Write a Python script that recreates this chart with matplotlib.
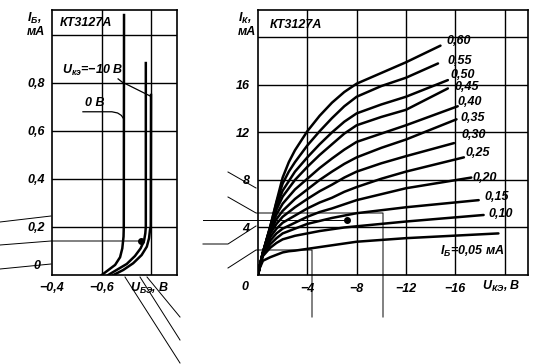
import numpy as np
import matplotlib
matplotlib.use("Agg")
import matplotlib.pyplot as plt
from matplotlib.lines import Line2D

plt.rcParams.update({
    "font.family":      ["Liberation Sans", "DejaVu Sans"],
    "font.style":       "italic",
    "font.weight":      "bold",
    "font.size":        9,
    "mathtext.fontset": "custom",
    "mathtext.it":      "Liberation Sans:italic:bold",
    "mathtext.rm":      "Liberation Sans:italic:bold",
    "mathtext.bf":      "Liberation Sans:italic:bold",
    "mathtext.fallback": "stix",
    "axes.linewidth":   1.2,
    "axes.edgecolor":   "black",
    "figure.facecolor": "white",
})

# ---- left panel: input characteristics I_B(U_BE) ----
ube_0v = [-0.601, -0.628, -0.655, -0.675, -0.684, -0.689, -0.690, -0.691]
ib_0v = [0.0, 0.021, 0.042, 0.074, 0.111, 0.160, 0.201, 1.083]

ube_10v_a = [-0.627, -0.661, -0.702, -0.735, -0.758, -0.772, -0.777, -0.779, -0.779]
ib_10v_a = [0.0, 0.021, 0.046, 0.079, 0.111, 0.143, 0.174, 0.201, 0.883]

ube_10v_b = [-0.648, -0.688, -0.728, -0.762, -0.783, -0.792, -0.796, -0.799, -0.800]
ib_10v_b = [0.0, 0.021, 0.049, 0.083, 0.118, 0.153, 0.188, 0.201, 0.750]

left_point = (-0.759, 0.142)

# ---- right panel: output characteristics I_K(U_KE) for several I_B ----
ib_levels = [0.05, 0.10, 0.15, 0.20, 0.25, 0.30, 0.35, 0.40, 0.45, 0.50, 0.55, 0.60]
ib_labels = ["0,05", "0,10", "0,15", "0,20", "0,25", "0,30",
             "0,35", "0,40", "0,45", "0,50", "0,55", "0,60"]
uce_grid = [0, -0.15, -0.4, -1, -1.5, -2, -2.5, -3, -4, -5, -6, -7, -8, -10, -12]
ic_on_grid = [
    [0, 0.6, 1.2, 1.5, 1.7, 1.9, 2.0, 2.05, 2.2, 2.35, 2.5, 2.65, 2.8, 2.95, 3.1],
    [0, 0.7, 1.6, 2.3, 2.7, 3.0, 3.15, 3.3, 3.5, 3.7, 3.85, 4.0, 4.1, 4.3, 4.5],
    [0, 0.7, 1.7, 2.6, 3.1, 3.5, 3.7, 3.9, 4.3, 4.55, 4.8, 5.0, 5.2, 5.45, 5.7],
    [0, 0.8, 1.8, 2.9, 3.5, 3.9, 4.15, 4.4, 4.9, 5.3, 5.6, 5.95, 6.3, 6.8, 7.3],
    [0, 0.8, 1.8, 3.2, 3.9, 4.4, 4.7, 5.0, 5.6, 6.1, 6.5, 7.0, 7.4, 8.1, 8.7],
    [0, 0.8, 1.9, 3.5, 4.3, 4.9, 5.3, 5.7, 6.4, 7.05, 7.6, 8.2, 8.7, 9.4, 10.0],
    [0, 0.8, 1.9, 3.7, 4.7, 5.4, 5.9, 6.4, 7.2, 8.0, 8.7, 9.35, 9.9, 10.7, 11.4],
    [0, 0.8, 1.9, 3.9, 5.1, 6.0, 6.6, 7.2, 8.1, 9.0, 9.8, 10.55, 11.2, 11.9, 12.6],
    [0, 0.8, 1.9, 4.0, 5.5, 6.6, 7.3, 8.0, 9.1, 10.1, 11.0, 11.9, 12.6, 13.3, 13.9],
    [0, 0.8, 1.9, 4.0, 5.8, 7.1, 7.9, 8.7, 9.9, 11.0, 12.0, 12.9, 13.6, 14.35, 15.0],
    [0, 0.8, 1.9, 4.1, 6.1, 7.7, 8.7, 9.5, 10.9, 12.1, 13.2, 14.2, 15.0, 15.9, 16.6],
    [0, 0.8, 1.9, 4.1, 6.2, 8.2, 9.5, 10.5, 12.1, 13.4, 14.5, 15.4, 16.1, 17.0, 17.9],
]
uce_end = [-19.5, -18.3, -17.9, -17.3, -16.7, -15.9, -16.1, -16.2, -15.4, -15.4, -14.6, -14.8]
ic_end = [3.5, 5.05, 6.3, 8.2, 9.9, 11.1, 13.1, 14.2, 15.7, 16.4, 17.8, 19.3]

right_point = (-7.2, 4.63)

W, H = 544, 364
fig = plt.figure(figsize=(W / 100, H / 100), dpi=100)


def fx(px):
    return px / W


def fy(py):
    return 1 - py / H


LW_CURVE = 1.8
LW_GRID = 1.0

# ---------------- left panel ----------------
axl = fig.add_axes([fx(52), fy(275), (177 - 52) / W, (275 - 10) / H])
axl.set_xlim(-0.4, -0.905)
axl.set_ylim(0, 1.104)
for y in [0.2, 0.4, 0.6, 0.8, 1.0]:
    axl.axhline(y, color="black", lw=LW_GRID)
for x in [-0.6, -0.8]:
    axl.axvline(x, color="black", lw=LW_GRID)

axl.plot(ube_0v, ib_0v, color="black", lw=LW_CURVE)
axl.plot(ube_10v_a, ib_10v_a, color="black", lw=LW_CURVE)
axl.plot(ube_10v_b, ib_10v_b, color="black", lw=LW_CURVE)
axl.plot(*left_point, "o", color="black", ms=4)

axl.set_xticks([-0.4, -0.6], ["\u22120,4", "\u22120,6"])
axl.set_yticks([0.2, 0.4, 0.6, 0.8], ["0,2", "0,4", "0,6", "0,8"])
axl.tick_params(length=0, pad=5, labelsize=9)
axl.text(-0.355, 0.012, "0", fontsize=9, ha="right", va="bottom")

axl.text(0.064, 0.951, "КТ3127А", transform=axl.transAxes, fontsize=9,
         ha="left", va="center")
axl.text(-0.44, 0.822, r"$U_{\mathrm{кэ}}$=" + "\u221210 В",
         fontsize=9, ha="left", va="bottom")
axl.plot([-0.667, -0.683, -0.796], [0.817, 0.804, 0.746], color="black", lw=0.9)
axl.text(-0.535, 0.69, "0 В", fontsize=9, ha="left", va="bottom")
axl.plot([-0.525, -0.642, -0.665, -0.680, -0.688],
         [0.680, 0.680, 0.675, 0.665, 0.653], color="black", lw=0.9)
axl.text(-0.715, -0.05, r"$U_{\mathrm{БЭ}}$, В", transform=axl.get_xaxis_transform(),
         fontsize=9, ha="left", va="center")

# ---------------- right panel ----------------
axr = fig.add_axes([fx(258), fy(275), (528 - 258) / W, (275 - 10) / H])
axr.set_xlim(0, -21.9)
axr.set_ylim(0, 22.3)
for y in [4, 8, 12, 16, 20]:
    axr.axhline(y, color="black", lw=LW_GRID)
for x in [-4, -8, -12, -16, -20]:
    axr.axvline(x, color="black", lw=LW_GRID)

for row, ue, ie in zip(ic_on_grid, uce_end, ic_end):
    axr.plot(uce_grid + [ue], row + [ie], color="black", lw=LW_CURVE,
             solid_joinstyle="round", solid_capstyle="round")
axr.plot(*right_point, "o", color="black", ms=4)

axr.set_xticks([-4, -8, -12, -16], ["\u22124", "\u22128", "\u221212", "\u221216"])
axr.set_yticks([4, 8, 12, 16], ["4", "8", "12", "16"])
axr.tick_params(length=0, pad=6, labelsize=9)
axr.text(1.05, -0.045, "0", transform=axr.get_xaxis_transform(),
         fontsize=9, ha="center", va="center")

axr.text(0.044, 0.943, "КТ3127А", transform=axr.transAxes, fontsize=9,
         ha="left", va="center")

label_pos = {
    0.60: (-15.3, 19.7), 0.55: (-15.4, 18.0), 0.50: (-15.6, 16.8),
    0.45: (-15.9, 15.8), 0.40: (-16.2, 14.6), 0.35: (-16.4, 13.2),
    0.30: (-16.5, 11.8), 0.25: (-16.8, 10.25), 0.20: (-17.4, 8.15),
    0.15: (-18.4, 6.55), 0.10: (-18.7, 5.1),
}
for ib, lab in zip(ib_levels, ib_labels):
    if ib in label_pos:
        x, y = label_pos[ib]
        axr.text(x, y, lab, fontsize=9, ha="left", va="center")
axr.text(-14.8, 2.0, r"$I_{\mathrm{Б}}$=0,05 мА", fontsize=9, ha="left", va="center")
axr.text(-18.2, -0.045, r"$U_{\mathrm{КЭ}}$, В", transform=axr.get_xaxis_transform(),
         fontsize=9, ha="left", va="center")

# axis quantity names in the upper left corners
for px, name in [(27, r"$I_{\mathrm{Б}}$,"), (238, r"$I_{\mathrm{К}}$,")]:
    fig.text(fx(px), fy(18), name, fontsize=9, ha="left", va="center")
    fig.text(fx(px), fy(32), "мА", fontsize=9, ha="left", va="center")

# callout leader lines of the scanned sheet (figure pixels)
callouts = [
    [(0, 222), (51, 216)],
    [(0, 245), (51, 241), (140, 241)],
    [(0, 269), (51, 264)],
    [(125, 277), (180, 363)],
    [(140, 277), (180, 340)],
    [(147, 277), (180, 317)],
    [(228, 172), (256, 188)],
    [(228, 197), (256, 213), (383, 213), (383, 317)],
    [(203, 220), (347, 220)],
    [(203, 244), (228, 244), (256, 226)],
    [(228, 268), (256, 250), (312, 250), (312, 317)],
]
for seg in callouts:
    xs = [fx(p[0]) for p in seg]
    ys = [fy(p[1]) for p in seg]
    fig.add_artist(Line2D(xs, ys, transform=fig.transFigure, color="black", lw=0.7))

fig.savefig("out.png", dpi=100, facecolor="white")
